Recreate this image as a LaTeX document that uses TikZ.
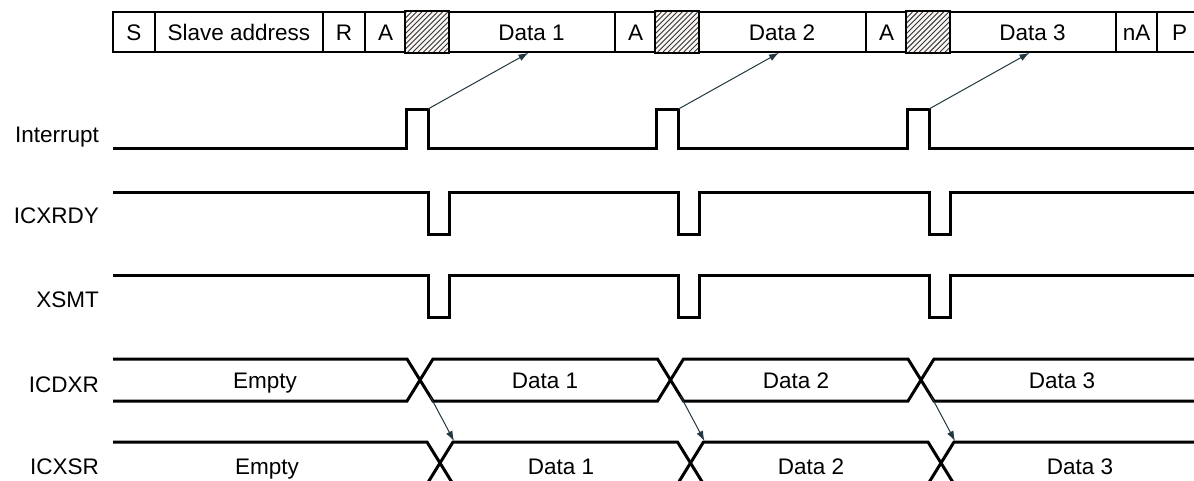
\documentclass[tikz,border=0pt]{standalone}
\usepackage{fontspec}
\setmainfont{Liberation Sans}
\usetikzlibrary{arrows.meta}
\definecolor{arrowc}{RGB}{35,55,65}
\definecolor{hatchbg}{RGB}{250,246,244}
\begin{document}
\begin{tikzpicture}[x=1pt,y=-1pt,
  every node/.style={font=\fontsize{22.5}{26}\selectfont},
  cell/.style={draw, line width=1.6pt, minimum height=40pt, inner sep=0pt,
    text height=16.5pt, text depth=0pt},
  sig/.style={line width=3pt, line join=miter},
  lbl/.style={anchor=base east, inner sep=0pt},
  txt/.style={anchor=base, inner sep=0pt},
  ptr/.style={line width=1pt, draw=arrowc, -{Latex[length=10pt,width=7pt]}},
  hatchline/.style={line width=0.9pt, draw=black!80}]
\clip (0,0) rectangle (1194,480);
\fill[white] (0,0) rectangle (1194,480);

% frame bar
\foreach \a/\b/\t/\n in {113/155/S/cS, 155/323/Slave address/cAddr, 323/365/R/cR,
  365/406/A/cA0, 406/448//h1, 448/615/Data 1/cD1, 615/656/A/cA1, 656/698//h2,
  698/866/Data 2/cD2, 866/907/A/cA2, 907/949//h3, 949/1116/Data 3/cD3,
  1116/1157/nA/cnA, 1157/1202/P/cP}
  \node[cell, minimum width={\b-\a}] (\n) at ({(\a+\b)/2},32) {\t};

% hatching
\foreach \n/\x in {h1/406, h2/656, h3/907}{
  \begin{scope}
    \clip (\n.south west) rectangle (\n.north east);
    \fill[hatchbg] (\n.south west) rectangle (\n.north east);
    \foreach \i in {-45,-39.8,...,50}
      \draw[hatchline] (\x+\i,52) -- ++(40,-40);
  \end{scope}
  \draw[line width=1.6pt] (\n.south west) rectangle (\n.north east);
}

% labels
\node[lbl] (lInt) at (99,142) {Interrupt};
\node[lbl] (lRdy) at (99,223) {ICXRDY};
\node[lbl] (lXsmt) at (99,307) {XSMT};
\node[lbl] (lDxr) at (99,392) {ICDXR};
\node[lbl] (lXsr) at (99,474) {ICXSR};

% Interrupt
\draw[sig] (113,148) -- (406,148) -- (406,109) -- (428,109) -- (428,148)
  -- (656.5,148) -- (656.5,109) -- (678.5,109) -- (678.5,148)
  -- (907,148) -- (907,109) -- (929,109) -- (929,148) -- (1200,148);
\coordinate (ip1) at (428,109);
\coordinate (ip2) at (678.5,109);
\coordinate (ip3) at (929,109);

% ICXRDY
\draw[sig] (113,192) -- (428,192) -- (428,234) -- (449,234) -- (449,192)
  -- (678.5,192) -- (678.5,234) -- (699.5,234) -- (699.5,192)
  -- (929,192) -- (929,234) -- (950,234) -- (950,192) -- (1200,192);

% XSMT
\draw[sig] (113,275) -- (428,275) -- (428,317) -- (449,317) -- (449,275)
  -- (678.5,275) -- (678.5,317) -- (699.5,317) -- (699.5,275)
  -- (929,275) -- (929,317) -- (950,317) -- (950,275) -- (1200,275);

% ICDXR bus
\draw[sig] (113,359) -- (407,359) -- (433,401) -- (657.5,401) -- (683.5,359)
  -- (908,359) -- (934,401) -- (1200,401);
\draw[sig] (113,401) -- (407,401) -- (433,359) -- (657.5,359) -- (683.5,401)
  -- (908,401) -- (934,359) -- (1200,359);
\coordinate (dx1) at (430,396);
\coordinate (dx2) at (680.5,396);
\coordinate (dx3) at (931,396);

% ICXSR bus
\draw[sig] (113,442) -- (427,442) -- (453,484) -- (677.5,484) -- (703.5,442)
  -- (928,442) -- (954,484) -- (1200,484);
\draw[sig] (113,484) -- (427,484) -- (453,442) -- (677.5,442) -- (703.5,484)
  -- (928,484) -- (954,442) -- (1200,442);
\coordinate (sx1) at (454,441);
\coordinate (sx2) at (704.5,441);
\coordinate (sx3) at (955,441);

% bus texts
\node[txt] (dxE) at (265,388) {Empty};
\node[txt] (dxD1) at (545,388) {Data 1};
\node[txt] (dxD2) at (796,388) {Data 2};
\node[txt] (dxD3) at (1062,388) {Data 3};
\node[txt] (sxE) at (267,474) {Empty};
\node[txt] (sxD1) at (561,474) {Data 1};
\node[txt] (sxD2) at (811,474) {Data 2};
\node[txt] (sxD3) at (1080,474) {Data 3};

% pointers
\draw[ptr] (ip1) -- ([xshift=-3pt]cD1.south);
\draw[ptr] (ip2) -- ([xshift=-3pt]cD2.south);
\draw[ptr] (ip3) -- ([xshift=-3pt]cD3.south);
\draw[ptr] (dx1) -- (sx1);
\draw[ptr] (dx2) -- (sx2);
\draw[ptr] (dx3) -- (sx3);
\end{tikzpicture}
\end{document}
